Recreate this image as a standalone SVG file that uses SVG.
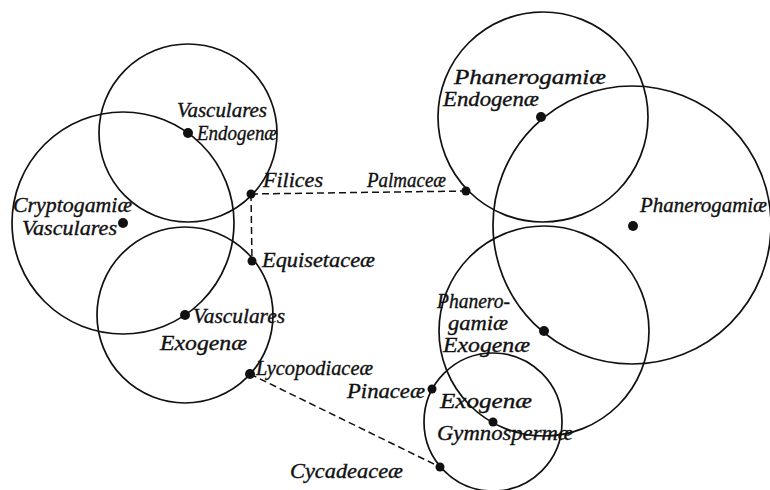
<svg xmlns="http://www.w3.org/2000/svg" width="770" height="490" viewBox="0 0 770 490">
<style>
.c{fill:none;stroke:#111;stroke-width:1.7}
.d{fill:#111}
.t{font-family:"Liberation Serif","Times New Roman",serif;font-style:italic;font-size:20px;fill:#111;stroke:#111;stroke-width:0.35}
.k{fill:none;stroke:#111;stroke-width:1.5;stroke-dasharray:7 4}
</style>
<rect width="770" height="490" fill="#fff"/>
<g id="cryptogamiae-vasculares">
<circle class="c" cx="123" cy="223" r="111"/>
<circle class="d" cx="123" cy="223" r="5"/>
<text class="t" x="13" y="212" textLength="119" lengthAdjust="spacingAndGlyphs">Cryptogamiæ</text>
<text class="t" x="22" y="235" textLength="95" lengthAdjust="spacingAndGlyphs">Vasculares</text>
</g>
<g id="vasculares-endogenae">
<circle class="c" cx="188" cy="133" r="89"/>
<circle class="d" cx="188" cy="133" r="5"/>
<text class="t" x="177" y="117" textLength="90" lengthAdjust="spacingAndGlyphs">Vasculares</text>
<text class="t" x="197" y="140" textLength="80" lengthAdjust="spacingAndGlyphs">Endogenæ</text>
</g>
<g id="vasculares-exogenae">
<circle class="c" cx="185" cy="315" r="88"/>
<circle class="d" cx="185" cy="315" r="5"/>
<text class="t" x="193" y="323" textLength="92" lengthAdjust="spacingAndGlyphs">Vasculares</text>
<text class="t" x="160" y="350" textLength="87" lengthAdjust="spacingAndGlyphs">Exogenæ</text>
</g>
<g id="filices">
<circle class="d" cx="251" cy="194" r="4.5"/>
<text class="t" x="263" y="187" textLength="60" lengthAdjust="spacingAndGlyphs">Filices</text>
</g>
<g id="equisetaceae">
<circle class="d" cx="252" cy="261" r="4.5"/>
<text class="t" x="262" y="267" textLength="113" lengthAdjust="spacingAndGlyphs">Equisetaceæ</text>
</g>
<g id="lycopodiaceae">
<circle class="d" cx="250" cy="374" r="5"/>
<text class="t" x="256" y="375" textLength="117" lengthAdjust="spacingAndGlyphs">Lycopodiaceæ</text>
</g>
<g id="phanerogamiae">
<circle class="c" cx="632" cy="225" r="139"/>
<circle class="d" cx="633" cy="226" r="5"/>
<text class="t" x="640" y="212" textLength="127" lengthAdjust="spacingAndGlyphs">Phanerogamiæ</text>
</g>
<g id="phanerogamiae-endogenae">
<circle class="c" cx="543" cy="117" r="105"/>
<circle class="d" cx="541" cy="117" r="5"/>
<text class="t" x="454" y="84" textLength="152" lengthAdjust="spacingAndGlyphs">Phanerogamiæ</text>
<text class="t" x="443" y="106" textLength="96" lengthAdjust="spacingAndGlyphs">Endogenæ</text>
</g>
<g id="phanerogamiae-exogenae">
<circle class="c" cx="544" cy="331" r="105"/>
<circle class="d" cx="544" cy="331" r="5"/>
<text class="t" x="437" y="308" textLength="73" lengthAdjust="spacingAndGlyphs">Phanero-</text>
<text class="t" x="448" y="330" textLength="60" lengthAdjust="spacingAndGlyphs">gamiæ</text>
<text class="t" x="443" y="352" textLength="87" lengthAdjust="spacingAndGlyphs">Exogenæ</text>
</g>
<g id="exogenae-gymnospermae">
<circle class="c" cx="493" cy="422" r="69"/>
<circle class="d" cx="493" cy="422" r="4.5"/>
<text class="t" x="440" y="408" textLength="92" lengthAdjust="spacingAndGlyphs">Exogenæ</text>
<text class="t" x="437" y="440" textLength="136" lengthAdjust="spacingAndGlyphs">Gymnospermæ</text>
</g>
<g id="palmaceae">
<circle class="d" cx="466" cy="191" r="4.5"/>
<text class="t" x="367" y="187" textLength="79" lengthAdjust="spacingAndGlyphs">Palmaceæ</text>
</g>
<g id="pinaceae">
<circle class="d" cx="432" cy="389" r="4.5"/>
<text class="t" x="347" y="398" textLength="78" lengthAdjust="spacingAndGlyphs">Pinaceæ</text>
</g>
<g id="cycadeaceae">
<circle class="d" cx="440" cy="467" r="4.5"/>
<text class="t" x="290" y="478" textLength="113" lengthAdjust="spacingAndGlyphs">Cycadeaceæ</text>
</g>
<g id="connectors">
<line class="k" x1="251" y1="194" x2="466" y2="191"/>
<line class="k" x1="251" y1="194" x2="252" y2="261"/>
<line class="k" x1="250" y1="374" x2="440" y2="467"/>
</g>
</svg>
